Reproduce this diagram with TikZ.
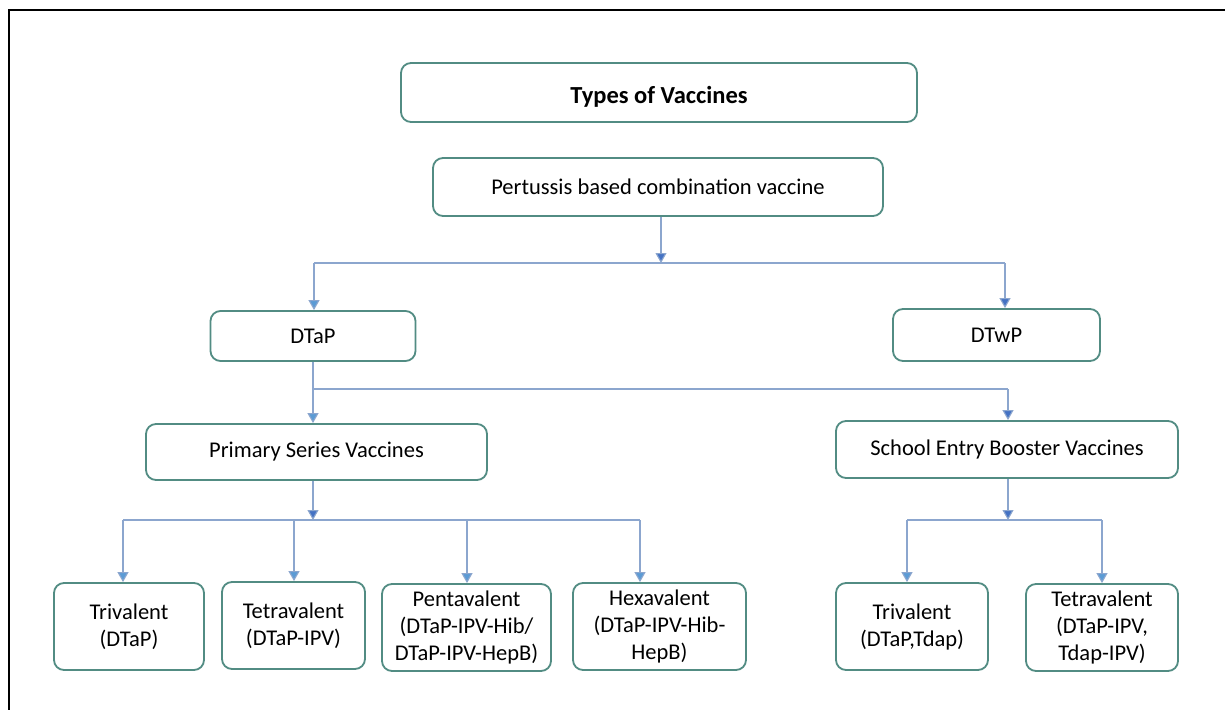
\documentclass[tikz,border=0pt]{standalone}
\usepackage{fontspec}
\setmainfont{Carlito}
\usetikzlibrary{arrows.meta}
\definecolor{boxline}{RGB}{82,140,131}
\definecolor{wire}{RGB}{140,166,206}
\definecolor{tipdark}{RGB}{68,114,196}
\definecolor{tiplight}{RGB}{91,155,213}
\tikzset{
  vbox/.style={draw=boxline, line width=1.8pt, rounded corners=10pt, fill=white,
    align=center, inner sep=2pt, font=\fontsize{22.5}{27}\selectfont},
  wireline/.style={draw=wire, line width=1.1pt},
  darktip/.style={wireline, -{Triangle[width=11pt,length=10pt,fill=tipdark]}},
  lighttip/.style={wireline, -{Triangle[width=11pt,length=10pt,fill=tiplight]}},
}
\begin{document}
\begin{tikzpicture}[x=1pt,y=-1pt]
\useasboundingbox (0,0) rectangle (1225,709);
\fill[white] (0,0) rectangle (1225,709);
% outer frame (left and top edges)
\draw[line width=2.2pt, line cap=rect] (9,709) -- (9,10) -- (1225,10);

% boxes
\node[vbox, minimum width=516pt, minimum height=59pt] (title) at (659,92.5)
  {\raisebox{-4.5pt}[17pt][5pt]{\fontsize{24.5}{27}\selectfont\bfseries Types of Vaccines}};
\node[vbox, minimum width=450pt, minimum height=58pt] (pert) at (658,187)
  {Pertussis based combination vaccine};
\node[vbox, minimum width=205pt, minimum height=50pt] (dtap) at (313,336) {DTaP};
\node[vbox, minimum width=207pt, minimum height=52pt] (dtwp) at (996.5,335) {DTwP};
\node[vbox, minimum width=341pt, minimum height=56pt] (prim) at (316.5,452) {Primary Series Vaccines};
\node[vbox, minimum width=342pt, minimum height=57pt] (school) at (1007,449.5) {School Entry Booster Vaccines};

\node[vbox, minimum width=150pt, minimum height=87pt] (tri) at (129,626.5) {Trivalent\\(DTaP)};
\node[vbox, minimum width=143pt, minimum height=87pt] (tetra) at (293.5,625.5) {Tetravalent\\(DTaP-IPV)};
\node[vbox, minimum width=169pt, minimum height=87pt] (penta) at (466.5,627.5) {Pentavalent\\(DTaP-IPV-Hib/\\DTaP-IPV-HepB)};
\node[vbox, minimum width=173pt, minimum height=87pt] (hexa) at (659.5,626.5) {Hexavalent\\(DTaP-IPV-Hib-\\HepB)};
\node[vbox, minimum width=152pt, minimum height=87pt] (stri) at (912,626.5) {Trivalent\\(DTaP,Tdap)};
\node[vbox, minimum width=152pt, minimum height=87pt] (stetra) at (1102,627.5) {Tetravalent\\(DTaP-IPV,\\Tdap-IPV)};

% junction points on the distribution lines
\coordinate (j1) at (661,263);
\coordinate (j1a) at (314,263);
\coordinate (j1b) at (1005,263);
\coordinate (j2a) at (313,389);
\coordinate (j2b) at (1008,389);
\coordinate (j3) at (313,520);
\coordinate (j3a) at (123,520);
\coordinate (j3b) at (294,520);
\coordinate (j3c) at (467,520);
\coordinate (j3d) at (640,520);
\coordinate (j4) at (1008,520);
\coordinate (j4a) at (907,520);
\coordinate (j4b) at (1102,520);

% level 1: combination vaccine -> DTaP / DTwP
\draw[darktip] (j1 |- pert.south) -- (j1);
\draw[wireline] (j1a) -- (j1b);
\draw[lighttip] (j1a) -- (j1a |- dtap.north);
\draw[darktip] (j1b) -- (j1b |- dtwp.north);

% level 2: DTaP -> primary series / school entry booster
\draw[wireline] (j2a |- dtap.south) -- (j2a) -- (j2b);
\draw[lighttip] (j2a) -- (j2a |- prim.north);
\draw[darktip] (j2b) -- (j2b |- school.north);

% level 3: primary series vaccines
\draw[darktip] (j3 |- prim.south) -- (j3);
\draw[wireline] (j3a) -- (j3d);
\draw[lighttip] (j3a) -- (j3a |- tri.north);
\draw[lighttip] (j3b) -- (j3b |- tetra.north);
\draw[lighttip] (j3c) -- (j3c |- penta.north);
\draw[lighttip] (j3d) -- (j3d |- hexa.north);

% level 3: school entry booster vaccines
\draw[darktip] (j4 |- school.south) -- (j4);
\draw[wireline] (j4a) -- (j4b);
\draw[lighttip] (j4a) -- (j4a |- stri.north);
\draw[lighttip] (j4b) -- (j4b |- stetra.north);
\end{tikzpicture}
\end{document}
